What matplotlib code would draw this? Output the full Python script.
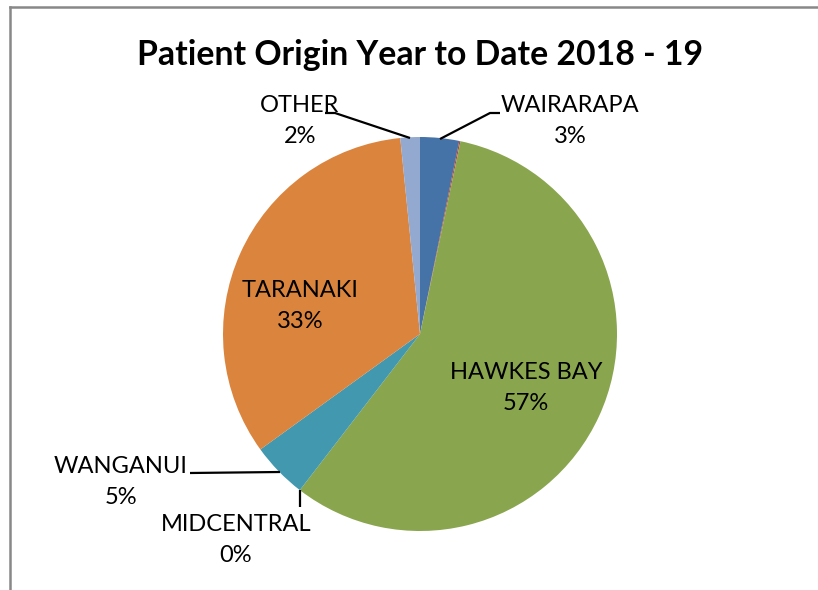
import matplotlib
matplotlib.use("Agg")
import matplotlib.pyplot as plt
from matplotlib.lines import Line2D

# ---- data ----
categories = ["WAIRARAPA", "", "HAWKES BAY", "MIDCENTRAL", "WANGANUI", "TARANAKI", "OTHER"]
values = [32, 1, 572, 0, 46, 334, 16]
colors = ["#4572A7", "#AA4643", "#89A54E", "#71588F", "#4198AF", "#DB843D", "#93A9CF"]
title = "Patient Origin Year to Date 2018 - 19"

W, H = 818, 590
plt.rcParams['font.family'] = ['Lato', 'DejaVu Sans']
fig = plt.figure(figsize=(W / 100, H / 100), dpi=100)
ax = fig.add_axes([0, 0, 1, 1])
ax.set_xlim(0, W)
ax.set_ylim(0, H)
ax.set_aspect('equal')
ax.axis('off')

def Y(y):
    return H - y

cx, cy, r = 420, Y(334), 197
ax.pie(values, colors=colors, startangle=90, counterclock=False,
       center=(cx, cy), radius=r, frame=True,
       wedgeprops=dict(linewidth=0.3, edgecolor='none'))
ax.set_xlim(0, W)
ax.set_ylim(0, H)
ax.axis('off')

total = sum(values)
pct = {c: f"{round(v / total * 100):.0f}%" for c, v in zip(categories, values)}

label_pos = {
    "WAIRARAPA": (570, 121),
    "OTHER": (300, 121),
    "TARANAKI": (300, 306),
    "HAWKES BAY": (526, 388),
    "WANGANUI": (121, 482),
    "MIDCENTRAL": (236, 540),
}
for c, (x, y) in label_pos.items():
    ax.text(x, Y(y), f"{c}\n{pct[c]}", ha='center', va='center',
            fontsize=17, linespacing=1.55, color='black')

# leader lines
leaders = [
    [(440, 139), (490, 113), (500, 113)],
    [(325, 113), (335, 113), (410, 138)],
    [(190, 473), (280, 472)],
    [(300, 490), (300, 507)],
]
for pts in leaders:
    xs = [p[0] for p in pts]
    ys = [Y(p[1]) for p in pts]
    ax.plot(xs, ys, color='black', lw=1.6, solid_capstyle='butt')

# chart border (left and top)
fig.add_artist(Line2D([9.5 / W, 9.5 / W], [0, Y(6.5) / H], color='#888888', lw=1.8,
                      transform=fig.transFigure))
fig.add_artist(Line2D([9.5 / W, 1], [Y(6.5) / H, Y(6.5) / H], color='#888888', lw=1.8,
                      transform=fig.transFigure))

ax.text(420, Y(55), title, ha='center', va='center', fontsize=24.3,
        fontweight='bold', color='black')

fig.savefig("out.png", dpi=100, facecolor='white')
